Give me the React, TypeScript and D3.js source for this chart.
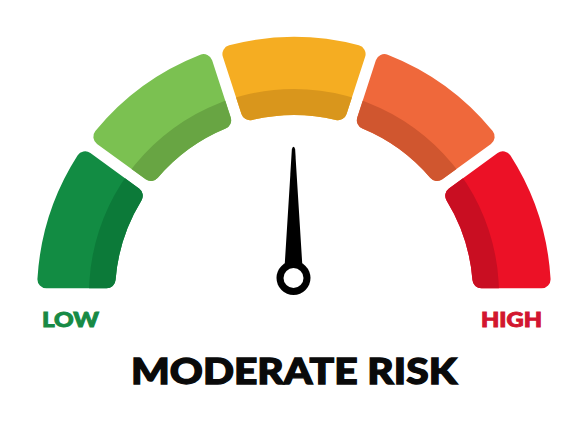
import React from "react";
import * as d3 from "d3";

const segmentNames = ["Low", "Low-Moderate", "Moderate", "Moderate-High", "High"];
const segmentColors = ["#128c43", "#7bc151", "#f5ad22", "#ef683b", "#ec1126"];
const segmentShades = ["#0c7a39", "#68a543", "#d9961c", "#d0562f", "#c90e22"];
const needleValue = 50;
const scaleMin = 0;
const scaleMax = 100;
const endLabels = ["LOW", "HIGH"];
const endLabelColors = ["#178a45", "#d2162f"];
const title = "MODERATE RISK";

const W = 568;
const H = 440;
const cx = 294;
const cy = 294;
const R_OUT = 257;
const R_IN = 179;
const BAND = 26;

export default function App() {
  const angle = d3.scaleLinear().domain([scaleMin, scaleMax]).range([-Math.PI / 2, Math.PI / 2]);
  const step = (scaleMax - scaleMin) / segmentNames.length;
  const segs = segmentNames.map((name, i) => ({
    name,
    start: angle(scaleMin + i * step),
    end: angle(scaleMin + (i + 1) * step),
    color: segmentColors[i],
    shade: segmentShades[i],
  }));
  const arc = d3
    .arc<any>()
    .innerRadius(R_IN)
    .outerRadius(R_OUT)
    .cornerRadius(9)
    .padAngle(0.036)
    .startAngle((d: any) => d.start)
    .endAngle((d: any) => d.end);
  const bandArc = d3
    .arc<any>()
    .innerRadius(R_IN - 6)
    .outerRadius(R_IN + BAND)
    .startAngle((d: any) => d.start - 0.2)
    .endAngle((d: any) => d.end + 0.2);

  const px = cx - 0.5;
  const py = 278;
  const needleDeg = (angle(needleValue) * 180) / Math.PI;
  const tipLen = 131;
  const needlePath = `M -9 -10 L -1.6 ${-tipLen + 2} Q 0 ${-tipLen - 2.5} 1.6 ${-tipLen + 2} L 9 -10 Z`;

  const fontBase = { fontFamily: "Lato, 'Open Sans', sans-serif", fontWeight: 900 } as const;

  return (
    <svg
      width={W}
      height={H}
      viewBox={`0 0 ${W} ${H}`}
      style={{ position: "absolute", left: 0, top: 0, background: "#ffffff" }}
    >
      <defs>
        {segs.map((s, i) => (
          <clipPath id={`seg-clip-${i}`} key={i}>
            <path d={arc(s) as string} />
          </clipPath>
        ))}
      </defs>
      <g transform={`translate(${cx},${cy})`}>
        {segs.map((s, i) => (
          <g key={s.name}>
            <path d={arc(s) as string} fill={s.color} />
            <path d={bandArc(s) as string} fill={s.shade} clipPath={`url(#seg-clip-${i})`} />
          </g>
        ))}
      </g>
      <g transform={`translate(${px},${py}) rotate(${needleDeg})`}>
        <path d={needlePath} fill="#000" />
        <circle r={17} fill="#000" />
        <circle r={10} fill="#fff" />
      </g>
      <text
        x={42}
        y={327}
        textLength={57}
        lengthAdjust="spacingAndGlyphs"
        fill={endLabelColors[0]}
        stroke={endLabelColors[0]}
        strokeWidth={0.9}
        style={{ ...fontBase, fontSize: 20 }}
      >
        {endLabels[0]}
      </text>
      <text
        x={481}
        y={327}
        textLength={61}
        lengthAdjust="spacingAndGlyphs"
        fill={endLabelColors[1]}
        stroke={endLabelColors[1]}
        strokeWidth={0.9}
        style={{ ...fontBase, fontSize: 20 }}
      >
        {endLabels[1]}
      </text>
      <text
        x={131}
        y={384}
        textLength={326}
        lengthAdjust="spacingAndGlyphs"
        fill="#0a0a0a"
        stroke="#0a0a0a"
        strokeWidth={1.3}
        style={{ ...fontBase, fontSize: 36 }}
      >
        {title}
      </text>
    </svg>
  );
}
